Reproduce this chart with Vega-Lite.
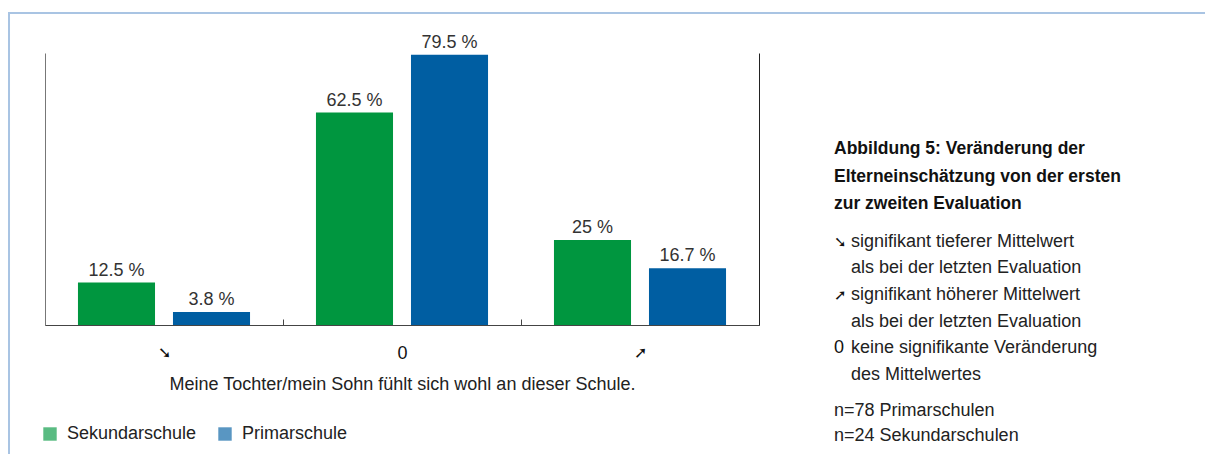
{
  "$schema": "https://vega.github.io/schema/vega-lite/v6.json",
  "padding": {"left": 8, "top": 12, "right": 0, "bottom": 0},
  "background": "white",
  "config": {
    "view": {"stroke": null},
    "font": "Liberation Sans",
    "text": {"font": "Liberation Sans", "color": "#222"}
  },
  "datasets": {
    "legendText": [
      {"line": 1, "kind": "title", "text": "Abbildung 5: Veränderung der"},
      {"line": 2, "kind": "title", "text": "Elterneinschätzung von der ersten"},
      {"line": 3, "kind": "title", "text": "zur zweiten Evaluation"},
      {"line": 4, "kind": "item", "symbol": "➘", "text": "signifikant tieferer Mittelwert"},
      {"line": 5, "kind": "item", "text": "als bei der letzten Evaluation"},
      {"line": 6, "kind": "item", "symbol": "➚", "text": "signifikant höherer Mittelwert"},
      {"line": 7, "kind": "item", "text": "als bei der letzten Evaluation"},
      {"line": 8, "kind": "item", "symbol": "0", "text": "keine signifikante Veränderung"},
      {"line": 9, "kind": "item", "text": "des Mittelwertes"},
      {"line": 10, "kind": "note", "text": "n=78 Primarschulen"},
      {"line": 11, "kind": "note", "text": "n=24 Sekundarschulen"}
    ]
  },
  "bounds": "flush",
  "spacing": 0,
  "vconcat": [
    {
      "width": 1197,
      "height": 0.01,
      "view": {"stroke": "#a9c4e3", "strokeWidth": 2},
      "data": {"values": []},
      "mark": "rule",
      "encoding": {}
    },
    {
      "bounds": "flush",
      "spacing": 35,
      "hconcat": [
        {
          "width": 0.01,
          "height": 460,
          "view": {"stroke": "#a9c4e3", "strokeWidth": 2},
          "data": {"values": []},
          "mark": "rule",
          "encoding": {}
        },
        {
          "bounds": "flush",
          "spacing": 38,
          "vconcat": [
            {
              "width": 0.01,
              "height": 0.01,
              "data": {"values": []},
              "mark": "rule",
              "encoding": {}
            },
            {
              "bounds": "flush",
              "spacing": 75,
              "hconcat": [
                {
                  "width": 714,
                  "height": 272,
                  "data": {
                    "values": [
                      {"change": "➘", "school": "Sekundarschule", "pct": 12.5, "label": "12.5 %"},
                      {"change": "➘", "school": "Primarschule", "pct": 3.8, "label": "3.8 %"},
                      {"change": "0", "school": "Sekundarschule", "pct": 62.5, "label": "62.5 %"},
                      {"change": "0", "school": "Primarschule", "pct": 79.5, "label": "79.5 %"},
                      {"change": "➚", "school": "Sekundarschule", "pct": 25, "label": "25 %"},
                      {"change": "➚", "school": "Primarschule", "pct": 16.7, "label": "16.7 %"}
                    ]
                  },
                  "encoding": {
                    "x": {
                      "field": "change",
                      "type": "nominal",
                      "sort": ["➘", "0", "➚"],
                      "scale": {"paddingInner": 0, "paddingOuter": 0},
                      "axis": {
                        "title": "Meine Tochter/mein Sohn fühlt sich wohl an dieser Schule.",
                        "labelAngle": 0,
                        "tickBand": "extent",
                        "tickSize": -6,
                        "domainColor": "#444",
                        "tickColor": "#444",
                        "labelFont": "Liberation Sans",
                        "labelFontSize": {"condition": {"test": "datum.value === '0'", "value": 18}, "value": 16},
                        "labelColor": "#111",
                        "labelPadding": 25,
                        "titleFont": "Liberation Sans",
                        "titleFontSize": 18,
                        "titleFontWeight": "normal",
                        "titleColor": "#222",
                        "titlePadding": 13
                      }
                    },
                    "xOffset": {
                      "field": "school",
                      "type": "nominal",
                      "sort": ["Sekundarschule", "Primarschule"],
                      "scale": {"paddingInner": 0.189, "paddingOuter": 0.347}
                    }
                  },
                  "layer": [
                    {
                      "mark": {"type": "bar"},
                      "encoding": {
                        "y": {
                          "field": "pct",
                          "type": "quantitative",
                          "scale": {"domain": [0, 80]},
                          "axis": {"orient": "left", "labels": false, "ticks": false, "grid": false, "title": null, "domainColor": "#777"}
                        },
                        "color": {
                          "field": "school",
                          "type": "nominal",
                          "sort": ["Sekundarschule", "Primarschule"],
                          "scale": {"domain": ["Sekundarschule", "Primarschule"], "range": ["#00963f", "#005ea2"]},
                          "legend": {
                            "title": null,
                            "orient": "none",
                            "legendX": 32,
                            "legendY": 412,
                            "direction": "horizontal",
                            "symbolType": "square",
                            "symbolSize": 180,
                            "symbolOpacity": 0.65,
                            "symbolStrokeWidth": 0,
                            "labelFont": "Liberation Sans",
                            "labelFontSize": 18,
                            "labelColor": "#222",
                            "labelOffset": 8,
                            "columnPadding": 19
                          }
                        }
                      }
                    },
                    {
                      "mark": {"type": "text", "baseline": "alphabetic", "dy": -7, "fontSize": 18, "color": "#333"},
                      "encoding": {
                        "y": {
                          "field": "pct",
                          "type": "quantitative",
                          "scale": {"domain": [0, 80]},
                          "axis": {"orient": "right", "labels": false, "ticks": false, "grid": false, "title": null, "domainColor": "#222"}
                        },
                        "text": {"field": "label"}
                      }
                    }
                  ],
                  "resolve": {"axis": {"y": "independent"}}
                },
                {
                  "bounds": "flush",
                  "spacing": 10.6,
                  "vconcat": [
                    {
                      "width": 0.01,
                      "height": 72,
                      "data": {"values": []},
                      "mark": "rule",
                      "encoding": {}
                    },
                    {
                      "width": 0.01,
                      "height": 82,
                      "data": {"name": "legendText"},
                      "transform": [{"filter": "datum.kind === 'title'"}],
                      "mark": {"type": "text", "align": "left", "baseline": "middle", "fontWeight": "bold", "fontSize": 17.5, "color": "#111"},
                      "encoding": {
                        "y": {"field": "line", "type": "ordinal", "scale": {"type": "point", "padding": 0.5}, "axis": null},
                        "text": {"field": "text"}
                      }
                    },
                    {
                      "width": 0.01,
                      "height": 160,
                      "data": {"name": "legendText"},
                      "transform": [{"filter": "datum.kind === 'item'"}],
                      "encoding": {
                        "y": {"field": "line", "type": "ordinal", "scale": {"type": "point", "padding": 0.5}, "axis": null}
                      },
                      "layer": [
                        {
                          "mark": {"type": "text", "align": "left", "baseline": "middle", "dx": 17, "fontSize": 18, "color": "#222"},
                          "encoding": {"text": {"field": "text"}}
                        },
                        {
                          "transform": [{"filter": "isValid(datum.symbol)"}],
                          "mark": {"type": "text", "align": "left", "baseline": "middle", "color": "#111"},
                          "encoding": {
                            "size": {"condition": {"test": "datum.symbol === '0'", "value": 18}, "value": 15},
                            "text": {"field": "symbol"}
                          }
                        }
                      ]
                    },
                    {
                      "width": 0.01,
                      "height": 50,
                      "data": {"name": "legendText"},
                      "transform": [{"filter": "datum.kind === 'note'"}],
                      "mark": {"type": "text", "align": "left", "baseline": "middle", "fontSize": 18, "color": "#222"},
                      "encoding": {
                        "y": {"field": "line", "type": "ordinal", "scale": {"type": "point", "padding": 0.5}, "axis": null},
                        "text": {"field": "text"}
                      }
                    }
                  ]
                }
              ]
            }
          ]
        }
      ]
    }
  ]
}
